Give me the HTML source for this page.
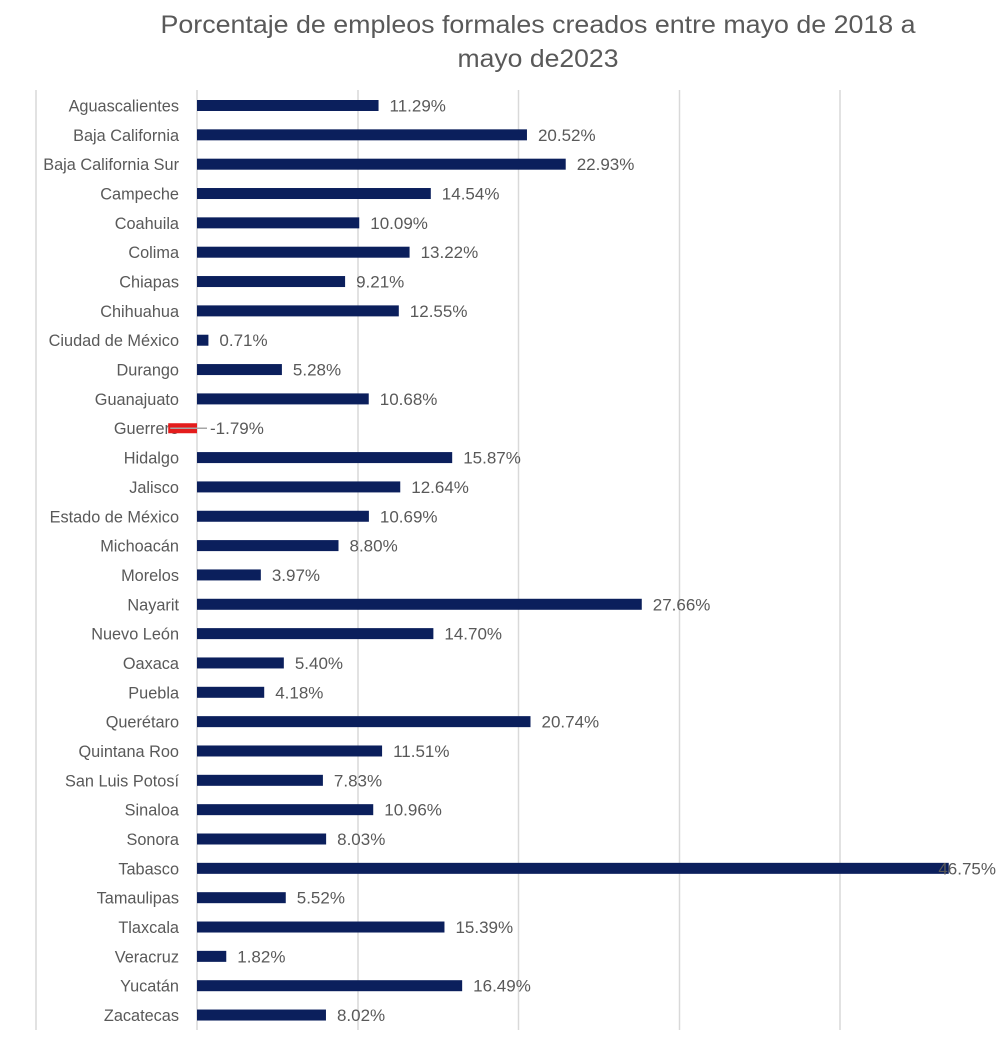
<!DOCTYPE html>
<html><head><meta charset="utf-8"><style>
html,body{margin:0;padding:0;background:#fff;}
svg{display:block;}
text{font-family:"Liberation Sans",sans-serif;fill:#595959;}
</style></head><body>
<svg width="1000" height="1047" viewBox="0 0 1000 1047" xmlns="http://www.w3.org/2000/svg">
<rect width="1000" height="1047" fill="#fff"/>
<text x="538" y="33" font-size="25" text-anchor="middle" textLength="755" lengthAdjust="spacingAndGlyphs">Porcentaje de empleos formales creados entre mayo de 2018 a</text>
<text x="538" y="67" font-size="25" text-anchor="middle" textLength="161" lengthAdjust="spacingAndGlyphs">mayo de2023</text>
<g stroke="#d9d9d9" stroke-width="1.5">
<line x1="36" y1="90" x2="36" y2="1030"/>
<line x1="358" y1="90" x2="358" y2="1030"/>
<line x1="518.5" y1="90" x2="518.5" y2="1030"/>
<line x1="679.5" y1="90" x2="679.5" y2="1030"/>
<line x1="840" y1="90" x2="840" y2="1030"/>
<line x1="197" y1="90" x2="197" y2="1030"/>
</g>
<g id="rows"></g>
</svg>
<script>
var d=[["Aguascalientes",11.29],["Baja California",20.52],["Baja California Sur",22.93],["Campeche",14.54],["Coahuila",10.09],["Colima",13.22],["Chiapas",9.21],["Chihuahua",12.55],["Ciudad de México",0.71],["Durango",5.28],["Guanajuato",10.68],["Guerrero",-1.79],["Hidalgo",15.87],["Jalisco",12.64],["Estado de México",10.69],["Michoacán",8.80],["Morelos",3.97],["Nayarit",27.66],["Nuevo León",14.70],["Oaxaca",5.40],["Puebla",4.18],["Querétaro",20.74],["Quintana Roo",11.51],["San Luis Potosí",7.83],["Sinaloa",10.96],["Sonora",8.03],["Tabasco",46.75],["Tamaulipas",5.52],["Tlaxcala",15.39],["Veracruz",1.82],["Yucatán",16.49],["Zacatecas",8.02]];
var g=document.getElementById("rows"),ns="http://www.w3.org/2000/svg",k=16.08,x0=197;
function el(t,a,txt){var e=document.createElementNS(ns,t);for(var n in a)e.setAttribute(n,a[n]);if(txt!=null)e.textContent=txt;g.appendChild(e);return e;}
d.forEach(function(r,i){
 var cy=105.5+i*29.34,v=r[1];
 el("text",{x:179,y:cy+6,"font-size":"16.3","text-anchor":"end"},r[0]);
 var lab=v.toFixed(2)+"%";
 if(v>=0){
  var xe=x0+v*k;
  el("rect",{x:x0,y:cy-5.5,width:v*k,height:11,fill:"#0b1f5c"});
  if(xe+11+58>998) el("text",{x:996,y:cy+6,"font-size":"17","text-anchor":"end"},lab);
  else el("text",{x:xe+11,y:cy+6,"font-size":"17"},lab);
 } else {
  var w=-v*k;
  el("rect",{x:x0-w,y:cy-5,width:w,height:10,fill:"#e41c1c"});
  el("line",{x1:x0-w+2,y1:cy,x2:207,y2:cy,stroke:"#a6a6a6","stroke-width":"1.5"});
  el("text",{x:210,y:cy+6,"font-size":"17"},lab);
 }
});
</script>
</body></html>
